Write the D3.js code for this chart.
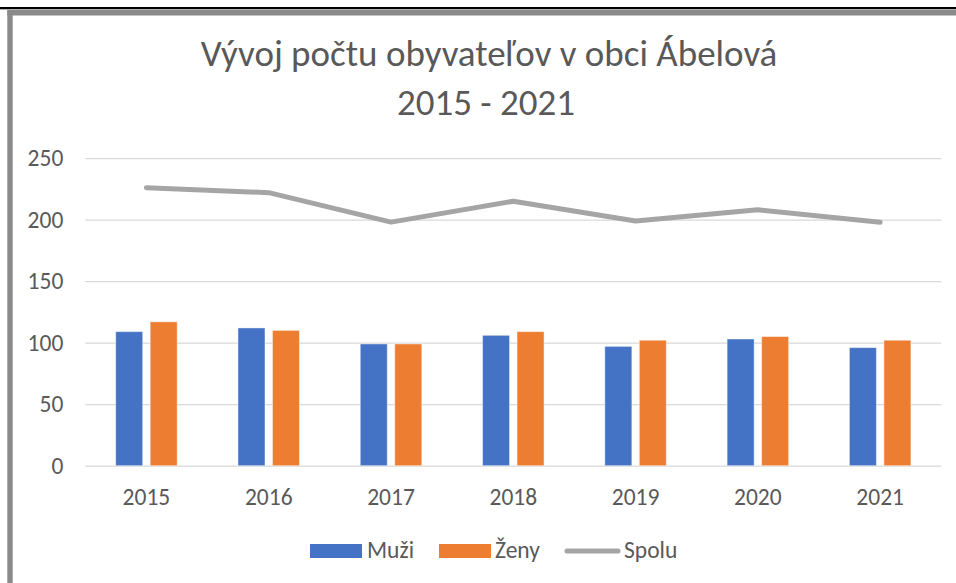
<!DOCTYPE html>
<html>
<head>
<meta charset="utf-8">
<script src="https://cdn.jsdelivr.net/npm/d3@7"></script>
<style>
  body { margin: 0; background: #fff; }
  text { font-family: Carlito, Calibri, 'Open Sans', sans-serif; fill: #595959; }
</style>
</head>
<body>
<svg class="chart"></svg>
<script>
const years = ['2015', '2016', '2017', '2018', '2019', '2020', '2021'];
const muzi = [109, 112, 99, 106, 97, 103, 96];
const zeny = [117, 110, 99, 109, 102, 105, 102];
const spolu = [226, 222, 198, 215, 199, 208, 198];
const yTicks = [0, 50, 100, 150, 200, 250];
const seriesNames = ['Muži', 'Ženy', 'Spolu'];

const width = 956;
const height = 583;
const svg = d3.select('.chart').attr('width', width).attr('height', height);

// frame like the original screenshot
svg.append('rect').attr('x', 0).attr('y', 7).attr('width', width).attr('height', 2.3).attr('fill', '#000');
svg.append('rect').attr('x', 7.3).attr('y', 10).attr('width', width).attr('height', 5.5).attr('fill', '#8a8a8a');
svg.append('rect').attr('x', 7.3).attr('y', 10).attr('width', 5.4).attr('height', height).attr('fill', '#8a8a8a');

// title
const title = svg.append('text').attr('text-anchor', 'middle').style('font-size', '37px');
title.append('tspan').attr('x', 489).attr('y', 66).text('Vývoj počtu obyvateľov v obci Ábelová');
title.append('tspan').attr('x', 486).attr('y', 115).text('2015 - 2021');

const left = 85.3, right = 941.3;
const y = d3.scaleLinear().domain([0, 250]).range([465.7, 158.2]);
const x0 = d3.scaleBand().domain(years).range([left, right]).padding(0);
const x1 = d3.scaleBand().domain(['Muži', 'Ženy']).range([0, x0.bandwidth()])
  .paddingInner(0.217).paddingOuter(0.881);

// gridlines + y labels
const yAxis = svg.append('g').attr('transform', `translate(${left},0)`)
  .call(d3.axisLeft(y).tickValues(yTicks).tickSize(-(right - left)).tickPadding(22));
yAxis.select('.domain').remove();
yAxis.selectAll('line').attr('stroke', '#d9d9d9').attr('stroke-width', 1.3);
yAxis.selectAll('text').style('font-size', '23.5px').attr('fill', '#595959');

const xAxis = svg.append('g').attr('transform', `translate(0,${y(0)})`)
  .call(d3.axisBottom(x0).tickSize(0).tickPadding(23));
xAxis.select('.domain').remove();
xAxis.selectAll('text').style('font-size', '23.5px').attr('fill', '#595959');

// bars
const colors = { 'Muži': '#4472c4', 'Ženy': '#ed7d31' };
const barData = years.map((yr, i) => ({ year: yr, vals: [
  { key: 'Muži', v: muzi[i] }, { key: 'Ženy', v: zeny[i] }] }));

svg.append('g').selectAll('g').data(barData).join('g')
  .attr('transform', d => `translate(${x0(d.year)},0)`)
  .selectAll('rect').data(d => d.vals).join('rect')
  .attr('x', d => x1(d.key))
  .attr('width', x1.bandwidth())
  .attr('y', d => y(d.v))
  .attr('height', d => y(0) - y(d.v))
  .attr('fill', d => colors[d.key])
  .attr('stroke', '#fff').attr('stroke-opacity', 0.45).attr('stroke-width', 1);

// total line
const line = d3.line()
  .x((d, i) => x0(years[i]) + x0.bandwidth() / 2)
  .y(d => y(d));
svg.append('path').datum(spolu)
  .attr('d', line)
  .attr('fill', 'none')
  .attr('stroke', '#a5a5a5')
  .attr('stroke-width', 5)
  .attr('stroke-linecap', 'round')
  .attr('stroke-linejoin', 'round');

// legend
const legend = svg.append('g');
legend.append('rect').attr('x', 310).attr('y', 544).attr('width', 52).attr('height', 14).attr('fill', colors['Muži']);
legend.append('text').attr('x', 367).attr('y', 558).style('font-size', '23.5px').text(seriesNames[0]);
legend.append('rect').attr('x', 439).attr('y', 544).attr('width', 52).attr('height', 14).attr('fill', colors['Ženy']);
legend.append('text').attr('x', 495).attr('y', 558).style('font-size', '23.5px').text(seriesNames[1]);
legend.append('line').attr('x1', 567).attr('x2', 618).attr('y1', 551).attr('y2', 551)
  .attr('stroke', '#a5a5a5').attr('stroke-width', 5).attr('stroke-linecap', 'round');
legend.append('text').attr('x', 624).attr('y', 558).style('font-size', '23.5px').text(seriesNames[2]);
</script>
</body>
</html>
